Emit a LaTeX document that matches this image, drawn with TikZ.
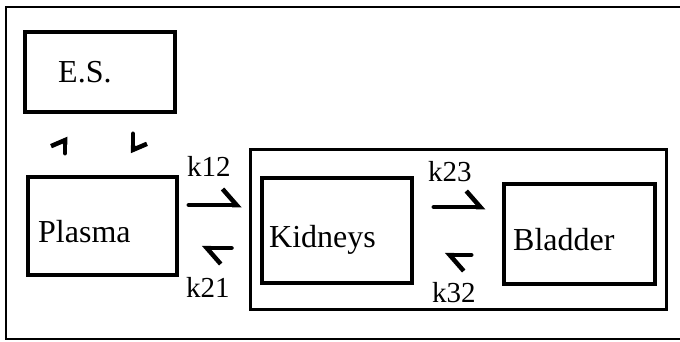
\documentclass[tikz,border=0pt]{standalone}
\usepackage{fontspec}
\setmainfont{Liberation Serif}
\usetikzlibrary{arrows.meta,calc}
\begin{document}
\begin{tikzpicture}[x=1pt,y=-1pt,
  box/.style={draw, line width=3.5pt, rectangle, inner sep=0pt},
  boxtext/.style={font=\fontsize{32}{32}\selectfont, anchor=base west, inner sep=0pt},
  ratelabel/.style={font=\fontsize{29}{29}\selectfont, anchor=base west, inner sep=0pt},
  harp/.style={line width=4.5pt, line cap=round, -{Straight Barb[left,length=14pt,width=32pt]}},
  vharp/.style={line width=4.5pt, line cap=round, -{Straight Barb[left,length=6pt,width=28pt]}},
]
\useasboundingbox (0,0) rectangle (680,342);
\draw[line width=1.3pt] (681,7) -- (6,7) -- (6,339) -- (681,339);

\node[box, minimum width=150pt, minimum height=80pt] (es) at (100,72) {};
\node[box, minimum width=149pt, minimum height=98pt] (plasma) at (102.5,226) {};
\node[box, line width=3pt, minimum width=416pt, minimum height=159pt] (group) at (458,229.5) {};
\node[box, minimum width=150pt, minimum height=105pt] (kidneys) at (337,230.5) {};
\node[box, minimum width=151pt, minimum height=100pt] (bladder) at (579.5,234) {};

\node[boxtext] (esT) at (58,83) {E.S.};
\node[boxtext] (plasmaT) at (38,242) {Plasma};
\node[boxtext] (kidneysT) at (269,247) {Kidneys};
\node[boxtext] (bladderT) at (513,250) {Bladder};

\node[ratelabel] (k12) at (187,176) {k12};
\node[ratelabel] (k21) at (186,297) {k21};
\node[ratelabel] (k23) at (428,181) {k23};
\node[ratelabel] (k32) at (432,302) {k32};

\draw[harp] ($(plasma.east)+(10,-21)$) -- ($(group.west)+(-7,-24.5)$);
\draw[harp] ($(group.west)+(-17,18.5)$) -- ($(plasma.east)+(23,22)$);
\draw[harp] ($(kidneys.east)+(20,-23.5)$) -- ($(bladder.west)+(-17,-27)$);
\draw[harp] ($(bladder.west)+(-31,21)$) -- ($(kidneys.east)+(31,24.5)$);
\draw[vharp] ($(plasma.north)+(-37.5,-22)$) -- ($(es.south)+(-35,23)$);
\draw[vharp] ($(es.south)+(33,20)$) -- ($(plasma.north)+(30.5,-22)$);
\end{tikzpicture}
\end{document}
